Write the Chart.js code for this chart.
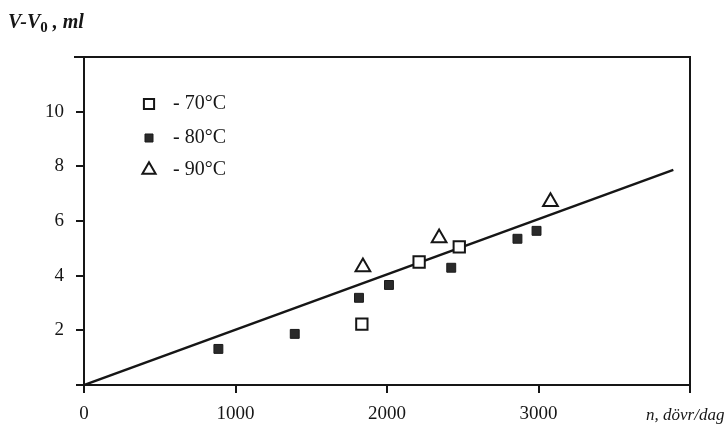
<!DOCTYPE html>
<html><head><meta charset="utf-8">
<script src="https://cdn.jsdelivr.net/npm/chart.js@4/dist/chart.umd.min.js"></script>
<style>html,body{margin:0;padding:0;background:#fff}</style>
</head><body>
<canvas id="c" width="728" height="433"></canvas>
<script>
// ---- data ----
const x70 = [1834, 2212, 2477];
const y70 = [2.23, 4.50, 5.05];
const x80 = [887, 1391, 1815, 2013, 2424, 2861, 2987];
const y80 = [1.32, 1.87, 3.19, 3.66, 4.29, 5.35, 5.64];
const x90 = [1841, 2344, 3079];
const y90 = [4.32, 5.38, 6.70];
const fitX = [0, 3890];
const fitY = [0, 7.87];
const xTickLabels = [0, 1000, 2000, 3000];
const yTickLabels = [2, 4, 6, 8, 10];
const legendLabels = ['- 70°C', '- 80°C', '- 90°C'];
const yTitle = ['V-V', '0', ' , ml'];
const xTitle = 'n, dövr/dag';

const pts = (xs, ys) => xs.map((x, i) => ({x, y: ys[i]}));
const INK = '#161616';
const SERIF = '"Liberation Serif", "DejaVu Serif", serif';

const ds70 = {label: legendLabels[0], data: pts(x70, y70), pointStyle: 'rect', pointRadius: 8, pointBorderWidth: 2,
  pointBackgroundColor: '#fff', pointBorderColor: INK, order: 0};
const ds80 = {label: legendLabels[1], data: pts(x80, y80), pointStyle: 'rect', pointRadius: 6.3, pointBorderWidth: 1,
  pointBackgroundColor: '#2a2a2a', pointBorderColor: '#1a1a1a', order: 0};
const ds90 = {label: legendLabels[2], data: pts(x90, y90), pointStyle: 'triangle', pointRadius: 8.5, pointBorderWidth: 2,
  pointBackgroundColor: '#fff', pointBorderColor: INK, order: 0};
const dsFit = {label: 'fit', data: pts(fitX, fitY), showLine: true, borderColor: INK, borderWidth: 2.5,
  pointRadius: 0, order: 10};

const decor = {
  id: 'decor',
  afterDatasetsDraw(chart) {
    const ctx = chart.ctx, a = chart.chartArea;
    ctx.save();
    ctx.strokeStyle = INK; ctx.lineWidth = 2;
    ctx.beginPath();
    ctx.moveTo(a.left - 10, a.top); ctx.lineTo(a.right, a.top); ctx.lineTo(a.right, a.bottom + 8);
    ctx.stroke();
    ctx.restore();
  },
  afterDraw(chart) {
    const ctx = chart.ctx;
    ctx.save();
    // legend
    const rows = [{ds: ds70, y: 104}, {ds: ds80, y: 138}, {ds: ds90, y: 170}];
    rows.forEach((r) => {
      ctx.fillStyle = r.ds.pointBackgroundColor; ctx.strokeStyle = r.ds.pointBorderColor;
      ctx.lineWidth = r.ds.pointBorderWidth;
      ctx.beginPath();
      Chart.helpers.drawPoint(ctx, {pointStyle: r.ds.pointStyle, radius: r.ds.pointRadius * 0.9, rotation: 0,
        borderWidth: r.ds.pointBorderWidth}, 149, r.y);
    });
    ctx.fillStyle = INK;
    ctx.font = '20px ' + SERIF;
    ctx.textBaseline = 'middle';
    ctx.textAlign = 'left';
    rows.forEach((r, i) => ctx.fillText(legendLabels[i], 173, r.y));
    // y title
    ctx.textBaseline = 'alphabetic';
    ctx.font = 'italic bold 20px ' + SERIF;
    let x = 8;
    ctx.fillText(yTitle[0], x, 28); x += ctx.measureText(yTitle[0]).width;
    ctx.font = 'bold 15px ' + SERIF;
    ctx.fillText(yTitle[1], x, 32); x += ctx.measureText(yTitle[1]).width;
    ctx.font = 'italic bold 20px ' + SERIF;
    ctx.fillText(yTitle[2], x, 28);
    // x title
    ctx.font = 'italic 17px ' + SERIF;
    ctx.fillText(xTitle, 646, 420);
    ctx.restore();
  }
};

new Chart(document.getElementById('c'), {
  type: 'scatter',
  data: {datasets: [dsFit, ds70, ds80, ds90]},
  plugins: [decor],
  options: {
    responsive: false, animation: false, devicePixelRatio: 1,
    layout: {padding: {top: 57, right: 38, left: 0, bottom: 0}},
    plugins: {legend: {display: false}, tooltip: {enabled: false}},
    scales: {
      x: {
        type: 'linear', min: 0, max: 4000,
        afterFit: s => { s.height = 48; },
        afterBuildTicks: s => { s.ticks = [0, 1000, 2000, 3000, 4000].map(v => ({value: v})); },
        ticks: {padding: 10, color: INK, font: {family: SERIF, size: 19},
          callback: v => xTickLabels.includes(v) ? String(v) : ''},
        grid: {drawOnChartArea: false, drawTicks: true, tickLength: 8, color: INK, lineWidth: 2},
        border: {color: INK, width: 2}
      },
      y: {
        type: 'linear', min: 0, max: 12,
        afterFit: s => { s.width = 84; },
        afterBuildTicks: s => { s.ticks = [0, 2, 4, 6, 8, 10, 12].map(v => ({value: v})); },
        ticks: {padding: 12, color: INK, font: {family: SERIF, size: 19},
          callback: v => yTickLabels.includes(v) ? String(v) : ''},
        grid: {drawOnChartArea: false, drawTicks: true, tickLength: 8, color: INK, lineWidth: 2},
        border: {color: INK, width: 2}
      }
    }
  }
});
</script>
</body></html>
